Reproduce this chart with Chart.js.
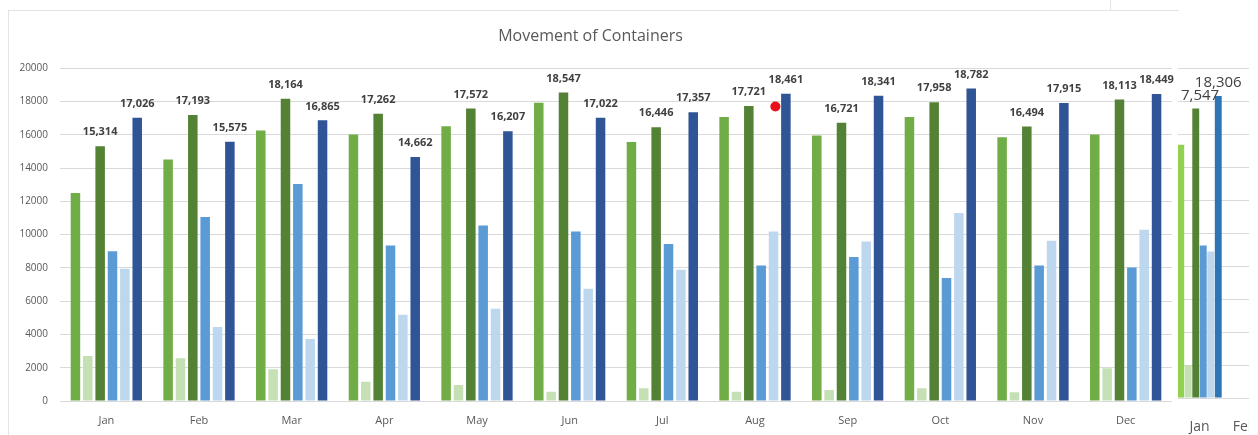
<!DOCTYPE html>
<html>
<head>
<meta charset="utf-8">
<script src="https://cdn.jsdelivr.net/npm/chart.js@4.4.0/dist/chart.umd.min.js"></script>
<style>
  html, body { margin: 0; padding: 0; background: #fff; overflow: hidden; width: 1258px; height: 435px; }
  #frame { position: absolute; left: 8px; top: 10px; width: 1170px; height: 430px; border-left: 1px solid #e3e3e3; border-top: 1px solid #e3e3e3; }
  #tick { position: absolute; left: 1110px; top: 0; width: 1px; height: 10px; background: #e3e3e3; }
  #mainChart { position: absolute; left: 9px; top: 11px; }
  #nextBox { position: absolute; left: 1178px; top: 0; width: 71px; height: 435px; overflow: hidden; }
  #nextChart { margin-left: -2px; }
</style>
</head>
<body>
<div id="frame"></div>
<div id="tick"></div>
<canvas id="mainChart" width="1167" height="424"></canvas>
<div id="nextBox"><canvas id="nextChart" width="100" height="435"></canvas></div>
<script>
// chart values
var months = ['Jan', 'Feb', 'Mar', 'Apr', 'May', 'Jun', 'Jul', 'Aug', 'Sep', 'Oct', 'Nov', 'Dec'];
var serie1 = [12500, 14510, 16250, 16010, 16510, 17920, 15570, 17060, 15950, 17060, 15850, 16010];
var serie2 = [2710, 2570, 1910, 1160, 960, 560, 760, 560, 660, 760, 520, 1970];
var serie3 = [15314, 17193, 18164, 17262, 17572, 18547, 16446, 17721, 16721, 17958, 16494, 18113];
var serie4 = [9000, 11060, 13045, 9350, 10550, 10190, 9430, 8150, 8650, 7390, 8150, 8030];
var serie5 = [7950, 4440, 3730, 5180, 5540, 6740, 7890, 10190, 9590, 11300, 9630, 10290];
var serie6 = [17026, 15575, 16865, 14662, 16207, 17022, 17357, 18461, 18341, 18782, 17915, 18449];
// red dot near Aug (month index, value)
var marcador = { mes: 7.22, valor: 17700 };

// the next year's chart, cut off on the right
var nextMonths = ['Jan', 'Feb'];
var next1 = [15350, null];
var next2 = [2000, null];
var next3 = [17547, null];
var next4 = [9250, null];
var next5 = [8880, null];
var next6 = [18306, null];

var yTicks = { min: 0, max: 20000, step: 2000 };

// draws the numbers above the bars that have showValue
var rotulos = {
    id: 'rotulos',
    afterDatasetsDraw: function (chart, args, opts) {
        var ctx = chart.ctx;
        ctx.save();
        ctx.font = opts.font;
        ctx.fillStyle = opts.color;
        ctx.textAlign = 'center';
        ctx.textBaseline = 'middle';
        chart.data.datasets.forEach(function (ds, i) {
            if (!ds.showValue) return;
            var meta = chart.getDatasetMeta(i);
            meta.data.forEach(function (bar, j) {
                var v = ds.data[j];
                if (v == null) return;
                ctx.fillText(v.toLocaleString('en-US'), bar.x, bar.y - opts.offset);
            });
        });
        ctx.restore();
    }
};

// red marker placed through the chart scales
var ponto = {
    id: 'ponto',
    afterDatasetsDraw: function (chart, args, opts) {
        if (!opts.dado) return;
        var ctx = chart.ctx;
        var px = chart.scales.x.getPixelForValue(opts.dado.mes);
        var py = chart.scales.y.getPixelForValue(opts.dado.valor);
        ctx.save();
        ctx.fillStyle = '#e8101a';
        ctx.beginPath();
        ctx.arc(px, py, 5, 0, Math.PI * 2);
        ctx.fill();
        ctx.restore();
    }
};

Chart.defaults.font.family = '"Open Sans", "Noto Sans", sans-serif';
Chart.defaults.color = '#595959';

var ctxMain = document.getElementById('mainChart');
var myChartMain = new Chart(ctxMain, {
    type: 'bar',
    data: {
        labels: months,
        datasets: [
            { label: 'Series 1', data: serie1, backgroundColor: '#70ad47' },
            { label: 'Series 2', data: serie2, backgroundColor: '#c5e0b4' },
            { label: 'Series 3', data: serie3, backgroundColor: '#548235', showValue: true },
            { label: 'Series 4', data: serie4, backgroundColor: '#5b9bd5' },
            { label: 'Series 5', data: serie5, backgroundColor: '#bdd7ee' },
            { label: 'Series 6', data: serie6, backgroundColor: '#2f5597', showValue: true }
        ]
    },
    options: {
        responsive: false,
        animation: false,
        datasets: {
            bar: { categoryPercentage: 0.8, barPercentage: 0.77 }
        },
        layout: { padding: { left: 0, right: 4, top: 0, bottom: 0 } },
        scales: {
            y: {
                min: yTicks.min,
                max: yTicks.max,
                ticks: {
                    stepSize: yTicks.step,
                    padding: 12,
                    font: { size: 10 },
                    callback: function (v) { return String(v); }
                },
                grid: { color: '#d9d9d9', drawTicks: false },
                border: { display: false },
                afterFit: function (scale) { scale.width = 51; }
            },
            x: {
                ticks: { padding: 13, font: { size: 11 } },
                grid: { display: false, drawTicks: false },
                border: { display: false },
                afterFit: function (scale) { scale.height = 34; }
            }
        },
        plugins: {
            legend: { display: false },
            tooltip: { enabled: false },
            title: {
                display: true,
                text: 'Movement of Containers',
                color: '#595959',
                font: { size: 16, weight: 'normal' },
                padding: { top: 16, bottom: 22 }
            },
            rotulos: { font: 'bold 11px "Open Sans", sans-serif', color: '#404040', offset: 14 },
            ponto: { dado: marcador }
        }
    },
    plugins: [rotulos, ponto]
});

var ctxNext = document.getElementById('nextChart');
var myChartNext = new Chart(ctxNext, {
    type: 'bar',
    data: {
        labels: nextMonths,
        datasets: [
            { label: 'Series 1', data: next1, backgroundColor: '#92d050' },
            { label: 'Series 2', data: next2, backgroundColor: '#c5e0b4' },
            { label: 'Series 3', data: next3, backgroundColor: '#548235', showValue: true },
            { label: 'Series 4', data: next4, backgroundColor: '#5b9bd5' },
            { label: 'Series 5', data: next5, backgroundColor: '#bdd7ee' },
            { label: 'Series 6', data: next6, backgroundColor: '#2e75b6', showValue: true }
        ]
    },
    options: {
        responsive: false,
        animation: false,
        datasets: {
            bar: { categoryPercentage: 1, barPercentage: 0.92 }
        },
        layout: { padding: { left: 0, right: 9, top: 68, bottom: 0 } },
        scales: {
            y: {
                min: yTicks.min,
                max: yTicks.max,
                ticks: { stepSize: yTicks.step, display: false },
                grid: { color: '#d9d9d9', drawTicks: false },
                border: { display: false },
                afterFit: function (scale) { scale.width = 1; }
            },
            x: {
                ticks: { padding: 21, font: { size: 14 } },
                grid: { display: false, drawTicks: false },
                border: { display: false },
                afterFit: function (scale) {
                    scale.height = 37;
                    scale.paddingLeft = 0;
                    scale.paddingRight = 0;
                }
            }
        },
        plugins: {
            legend: { display: false },
            tooltip: { enabled: false },
            rotulos: { font: '15px "Open Sans", sans-serif', color: '#404040', offset: 13 }
        }
    },
    plugins: [rotulos]
});
</script>
</body>
</html>
